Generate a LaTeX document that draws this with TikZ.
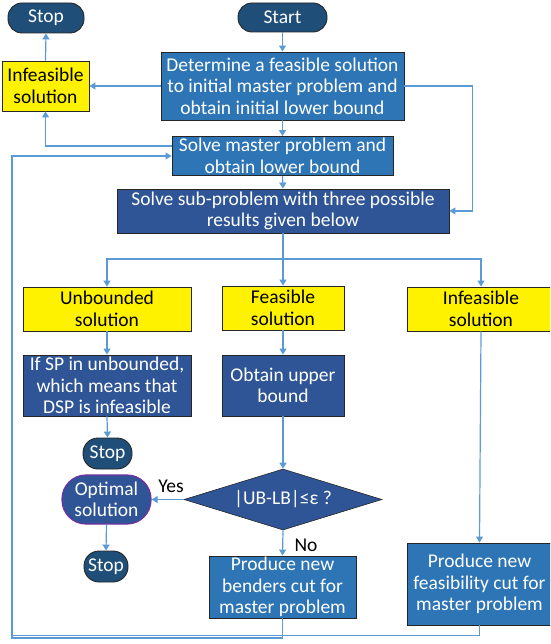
\documentclass[tikz,border=0pt]{standalone}
\usepackage{fontspec}
\setmainfont{Carlito}
\usetikzlibrary{shapes.geometric,arrows.meta}
\definecolor{navy}{HTML}{1F4E79}
\definecolor{midblue}{HTML}{2E75B6}
\definecolor{darkblue}{HTML}{2F5597}
\definecolor{linec}{HTML}{5B9BD5}
\definecolor{purp}{HTML}{7030A0}
\definecolor{bord}{HTML}{262626}
\tikzset{
  txt/.style={font=\fontsize{19.5}{21.5}\selectfont, align=center, inner sep=0pt},
  mbox/.style={txt, rectangle, draw=bord, line width=0.9pt, fill=midblue, text=white},
  dbox/.style={txt, rectangle, draw=bord, line width=0.9pt, fill=darkblue, text=white},
  ybox/.style={txt, rectangle, draw=bord, line width=0.9pt, fill=yellow, text=black},
  pill/.style={txt, rectangle, rounded corners=14pt, draw=bord, line width=0.9pt, fill=navy, text=white},
  decis/.style={txt, diamond, draw=bord, line width=0.6pt, fill=darkblue, text=white, aspect=3.2},
  conn/.style={draw=linec, line width=1.2pt},
  arr/.style={conn, -{Triangle[width=7pt,length=6pt]}},
  lbl/.style={txt, text=black}
}
\begin{document}
\begin{tikzpicture}[x=1pt,y=-1pt]
\useasboundingbox (0,0) rectangle (550,644);
\begin{scope}
\clip (0,0) rectangle (550,644);
% nodes
\node[pill, minimum width=76pt, minimum height=30pt] (stoptop) at (46,18) {Stop};
\node[pill, minimum width=89pt, minimum height=29pt] (start) at (282.5,17.5) {Start};
\node[mbox, minimum width=243pt, minimum height=68pt] (det) at (282.5,86) {Determine a feasible solution\\to initial master problem and\\obtain initial lower bound};
\node[ybox, minimum width=87pt, minimum height=50pt] (inftop) at (45.5,86) {Infeasible\\solution};
\node[mbox, minimum width=221pt, minimum height=39pt] (master) at (282.5,156) {Solve master problem and\\obtain lower bound};
\node[dbox, minimum width=332pt, minimum height=44pt] (sub) at (283,211) {Solve sub-problem with three possible\\results given below};
\node[ybox, minimum width=168pt, minimum height=44pt] (unb) at (107,309) {Unbounded\\solution};
\node[ybox, minimum width=122pt, minimum height=44pt] (feasy) at (283,308) {Feasible\\solution};
\node[ybox, minimum width=148pt, minimum height=44pt] (infr) at (481,309) {Infeasible\\solution};
\node[dbox, minimum width=168pt, minimum height=61pt] (ifsp) at (107,385.5) {If SP in unbounded,\\which means that\\DSP is infeasible};
\node[dbox, minimum width=122pt, minimum height=61pt] (obtain) at (283,385.5) {Obtain upper\\bound};
\node[pill, rounded corners=15pt, minimum width=49pt, minimum height=31pt] (stopmid) at (107.5,453.5) {Stop};
\node[pill, rounded corners=24pt, fill=darkblue, draw=purp, line width=1.2pt, minimum width=89pt, minimum height=49pt] (opt) at (106.5,499.5) {Optimal\\solution};
\node[pill, rounded corners=15pt, minimum width=44pt, minimum height=31pt] (stopbot) at (106,566.5) {Stop};
\node[decis, minimum width=198pt, minimum height=61pt] (dia) at (283,499.5) {|UB-LB|≤ε ?};
\node[mbox, minimum width=147pt, minimum height=62pt] (benders) at (282.5,587) {Produce new\\benders cut for\\master problem};
\node[mbox, minimum width=145pt, minimum height=82pt] (feas) at (479.5,584) {Produce new\\feasibility cut for\\master problem};
\coordinate (split) at (283,259);
\coordinate (loopl) at (12,638);
\coordinate (loopf) at (12,635.5);
% connectors
\draw[arr] (start) -- (det);
\draw[arr] (det.west) -- (inftop.east);
\draw[arr] (inftop.north) -- (stoptop.south);
\draw[arr] (det.south) -- (master.north);
\draw[arr] ([yshift=10pt]master.west) -| (inftop.south);
\draw[arr] (det.east) -| ([xshift=23pt]sub.east) -- (sub.east);
\draw[arr] (master.south) -- (sub.north);
\draw[conn] (sub.south) -- (split);
\draw[arr] (split) -| (unb.north);
\draw[arr] (split) -| (infr.north);
\draw[arr] (split) -- (feasy.north);
\draw[arr] (unb.south) -- (ifsp.north);
\draw[arr] (feasy.south) -- (obtain.north);
\draw[arr] (ifsp.south) -- (stopmid.north);
\draw[arr] (obtain.south) -- (dia.north);
\draw[arr] (dia.west) -- (opt.east);
\draw[arr] (opt.south) -- (stopbot.north);
\draw[arr] (dia.south) -- (benders.north);
\draw[arr] (infr.south) -- (feas.north);
\draw[arr] (benders.south) |- (loopl) |- (master.west);
\draw[conn] (feas.south) |- (loopf);
\node[lbl] (yes) at (171,486) {Yes};
\node[lbl] (no) at (306,545) {No};
\end{scope}
\end{tikzpicture}
\end{document}
